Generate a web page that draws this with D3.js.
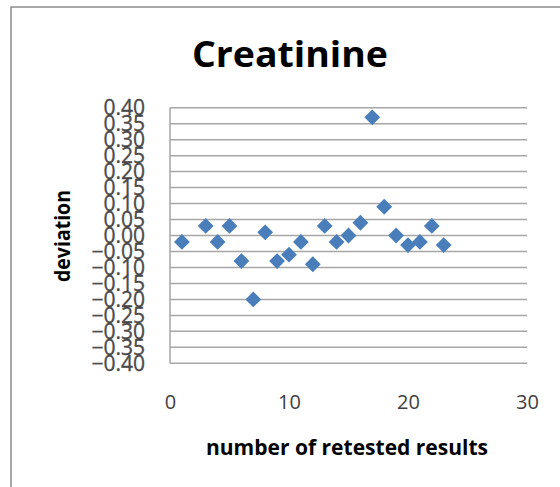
<!DOCTYPE html>
<html>
<head>
<meta charset="utf-8">
<script src="https://cdn.jsdelivr.net/npm/d3@7"></script>
<style>
  html, body { margin: 0; padding: 0; background: #fff; }
  svg { display: block; }
</style>
</head>
<body>
<svg id="chart" width="560" height="487"></svg>
<script>
// Retest number for each measurement pair
const retestNumber = [1, 3, 4, 5, 6, 7, 8, 9, 10, 11, 12, 13, 14, 15, 16, 17, 18, 19, 20, 21, 22, 23];
// Deviation between original and retested creatinine result
const deviation = [-0.02, 0.03, -0.02, 0.03, -0.08, -0.20, 0.01, -0.08, -0.06, -0.02, -0.09,
                   0.03, -0.02, 0.00, 0.04, 0.37, 0.09, 0.00, -0.03, -0.02, 0.03, -0.03];
// Axis ticks
const xTicks = [0, 10, 20, 30];
const yTicks = [0.40, 0.35, 0.30, 0.25, 0.20, 0.15, 0.10, 0.05, 0.00,
                -0.05, -0.10, -0.15, -0.20, -0.25, -0.30, -0.35, -0.40];

const svg = d3.select("#chart");
const font = "'Open Sans', 'Liberation Sans', sans-serif";

// Chart frame
svg.append("path")
  .attr("d", "M11,600 L11,7 L600,7")
  .attr("fill", "none")
  .attr("stroke", "#8c8c8c")
  .attr("stroke-width", 1.5);

const plot = { left: 170, right: 527, top: 107.7, bottom: 363.3 };

const x = d3.scaleLinear().domain([0, 30]).range([plot.left, plot.right]);
const y = d3.scaleLinear().domain([-0.40, 0.40]).range([plot.bottom, plot.top]);

// Horizontal gridlines
svg.append("g")
  .selectAll("line")
  .data(yTicks)
  .join("line")
  .attr("x1", plot.left)
  .attr("x2", plot.right)
  .attr("y1", d => y(d))
  .attr("y2", d => y(d))
  .attr("stroke", "#a6a6a6")
  .attr("stroke-width", 1.5);

// Vertical axis line
svg.append("line")
  .attr("x1", plot.left).attr("x2", plot.left)
  .attr("y1", plot.top).attr("y2", plot.bottom)
  .attr("stroke", "#a6a6a6")
  .attr("stroke-width", 1.5);

// Y tick labels
const yAxis = d3.axisLeft(y).tickValues(yTicks).tickFormat(d3.format(".2f")).tickSize(0).tickPadding(25);
const gy = svg.append("g").attr("transform", `translate(${plot.left},0)`).call(yAxis);
gy.select(".domain").remove();
gy.selectAll("text")
  .attr("font-family", font)
  .attr("font-size", 21)
  .attr("fill", "#4d4d4d")
  .attr("stroke", "#3a3a3a")
  .attr("stroke-width", 0.3);

// X tick labels
const xAxis = d3.axisBottom(x).tickValues(xTicks).tickFormat(d3.format("d")).tickSize(0).tickPadding(0);
const gx = svg.append("g").attr("transform", `translate(0,395)`).call(xAxis);
gx.select(".domain").remove();
gx.selectAll("text")
  .attr("dy", "0.71em")
  .attr("font-family", font)
  .attr("font-size", 20)
  .attr("fill", "#404040");

// Data points as diamonds
const diamond = d3.symbol().type(d3.symbolSquare).size(125);
svg.append("g")
  .selectAll("path")
  .data(retestNumber.map((n, i) => ({ n, v: deviation[i] })))
  .join("path")
  .attr("d", diamond)
  .attr("transform", d => `translate(${x(d.n)},${y(d.v)}) rotate(45)`)
  .attr("fill", "#4a7ebb");

// Title
svg.append("text")
  .attr("x", 290).attr("y", 67)
  .attr("text-anchor", "middle")
  .attr("font-family", font)
  .attr("font-weight", "bold")
  .attr("font-size", 36)
  .attr("textLength", 196)
  .attr("lengthAdjust", "spacingAndGlyphs")
  .attr("fill", "#000")
  .text("Creatinine");

// Axis titles
svg.append("text")
  .attr("x", 347).attr("y", 455)
  .attr("text-anchor", "middle")
  .attr("font-family", font)
  .attr("font-weight", "bold")
  .attr("font-size", 21)
  .attr("textLength", 282)
  .attr("lengthAdjust", "spacingAndGlyphs")
  .attr("fill", "#000")
  .text("number of retested results");

svg.append("text")
  .attr("transform", "translate(70,236) rotate(-90)")
  .attr("text-anchor", "middle")
  .attr("font-family", font)
  .attr("font-weight", "bold")
  .attr("font-size", 21)
  .attr("textLength", 92)
  .attr("lengthAdjust", "spacingAndGlyphs")
  .attr("fill", "#000")
  .text("deviation");
</script>
</body>
</html>
